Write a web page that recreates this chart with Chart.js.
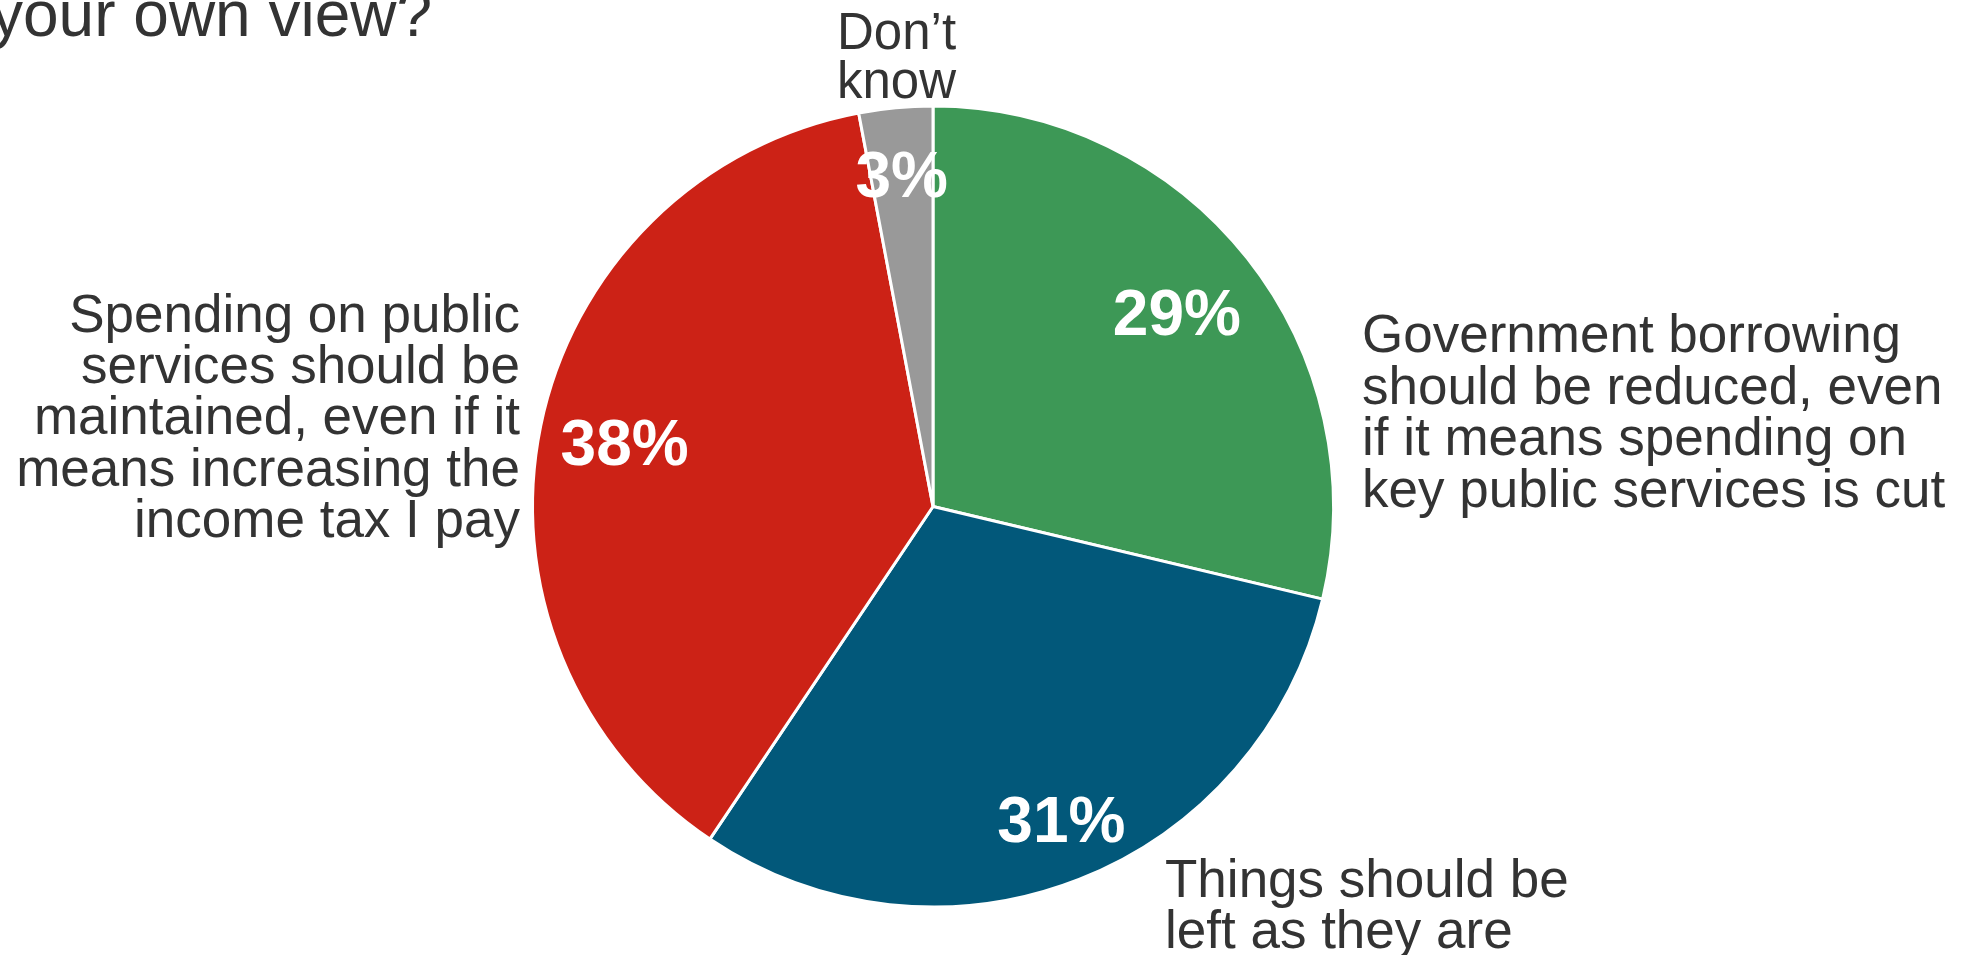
<!DOCTYPE html>
<html>
<head>
<meta charset="utf-8">
<script src="https://cdn.jsdelivr.net/npm/chart.js@4/dist/chart.umd.min.js"></script>
<style>
  html, body { margin: 0; padding: 0; background: #ffffff; }
  #wrap { width: 1973px; height: 955px; position: relative; overflow: hidden; }
  canvas { display: block; }
</style>
</head>
<body>
<div id="wrap"><canvas id="c" width="1973" height="955"></canvas></div>
<script>
// ---- data ----
const titleText = 'your own view?';
const categories = [
  ['Government borrowing', 'should be reduced, even', 'if it means spending on', 'key public services is cut'],
  ['Things should be', 'left as they are'],
  ['Spending on public', 'services should be', 'maintained, even if it', 'means increasing the', 'income tax I pay'],
  ['Don\u2019t', 'know']
];
const values = [29, 31, 38, 3];
const sliceColors = ['#3d9856', '#02587a', '#cc2216', '#999999'];

// ---- styling / layout (not data) ----
const FONT = '"Liberation Sans", Arial, Helvetica, sans-serif';
const TEXT_COLOR = '#333333';
const pctRadius = [0.776, 0.845, 0.786, 0.84];
const pctNudge = [[0, 4], [5, 3], [0, 4], [0, 8]];
// category label placement relative to the pie centre: [dx, dy of first baseline, align, lineHeight, fontSize]
const catPlacement = [
  [429, -154.5, 'left', 51.6, 53],
  [232, 390.5, 'left', 50.5, 53],
  [-413, -174.5, 'right', 51.2, 53],
  [-96, -457.5, 'left', 49, 51]
];

const labelPlugin = {
  id: 'pieLabels',
  afterDraw(chart) {
    const ctx = chart.ctx;
    const meta = chart.getDatasetMeta(0);
    ctx.save();
    // title fragment
    ctx.fillStyle = TEXT_COLOR;
    ctx.font = '64px ' + FONT;
    ctx.textAlign = 'left';
    ctx.textBaseline = 'alphabetic';
    ctx.fillText(titleText, -9, 36);

    meta.data.forEach((arc, i) => {
      const p = arc.getProps(['x', 'y', 'startAngle', 'endAngle', 'outerRadius'], true);
      const mid = (p.startAngle + p.endAngle) / 2;
      const r = p.outerRadius * pctRadius[i];
      const tx = p.x + Math.cos(mid) * r + pctNudge[i][0];
      const ty = p.y + Math.sin(mid) * r + pctNudge[i][1];
      ctx.fillStyle = '#ffffff';
      ctx.font = 'bold 64px ' + FONT;
      ctx.textAlign = 'center';
      ctx.textBaseline = 'middle';
      ctx.fillText(Math.round(values[i]) + '%', tx, ty);

      const [dx, dy, align, lh, fs] = catPlacement[i];
      ctx.fillStyle = TEXT_COLOR;
      ctx.font = fs + 'px ' + FONT;
      ctx.textAlign = align;
      ctx.textBaseline = 'alphabetic';
      categories[i].forEach((line, k) => {
        ctx.fillText(line, p.x + dx, p.y + dy + k * lh);
      });
    });
    ctx.restore();
  }
};

new Chart(document.getElementById('c'), {
  type: 'pie',
  data: {
    labels: categories,
    datasets: [{
      data: values,
      backgroundColor: sliceColors,
      borderColor: '#ffffff',
      borderWidth: 3
    }]
  },
  options: {
    responsive: false,
    devicePixelRatio: 1,
    animation: false,
    layout: { padding: { left: 0, right: 107, top: 104.5, bottom: 46.5 } },
    plugins: {
      legend: { display: false },
      tooltip: { enabled: false },
      title: { display: false }
    }
  },
  plugins: [labelPlugin]
});
</script>
</body>
</html>
